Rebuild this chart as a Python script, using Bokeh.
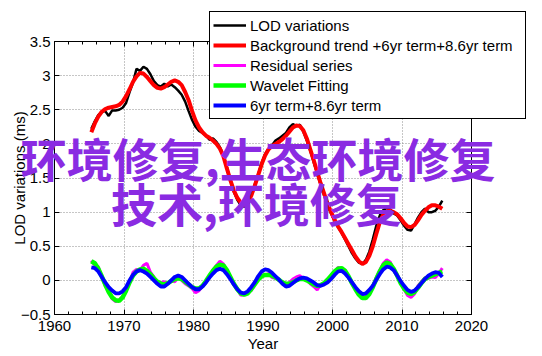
import math
from bokeh.plotting import figure
from bokeh.models import (Range1d, FixedTicker, LinearAxis, Legend, LegendItem,
                          Label, CustomJSTickFormatter)
from bokeh.embed import file_html
from bokeh.resources import INLINE

# ---------------- data ----------------
years = [round(1965.3 + 0.5 * i, 2) for i in range(102)]

lod = [2.22, 2.33, 2.42, 2.47, 2.48, 2.41, 2.49, 2.49, 2.50, 2.53,
       2.60, 2.76, 2.90, 3.10, 3.07, 3.13, 3.10, 3.02, 2.92, 2.86,
       2.84, 2.88, 2.84, 2.87, 2.83, 2.78, 2.72, 2.62, 2.48, 2.35,
       2.25, 2.19, 2.16, 2.12, 2.06, 2.08, 2.03, 1.95, 1.84, 1.66,
       1.47, 1.30, 1.18, 1.10, 1.08, 1.12, 1.24, 1.40, 1.55, 1.72,
       1.85, 1.93, 1.98, 2.05, 2.08, 2.12, 2.16, 2.24, 2.29, 2.26,
       2.28, 2.18, 2.05, 1.90, 1.73, 1.56, 1.40, 1.24, 1.10, 0.98,
       0.87, 0.78, 0.70, 0.60, 0.50, 0.40, 0.32, 0.26, 0.24, 0.30,
       0.42, 0.60, 0.80, 0.95, 1.03, 1.06, 1.04, 0.98, 0.95, 0.88,
       0.80, 0.74, 0.73, 0.82, 0.92, 1.00, 1.05, 1.00, 1.00, 1.02,
       1.08, 1.17]

trend = [2.17, 2.30, 2.40, 2.47, 2.51, 2.53, 2.54, 2.55, 2.57, 2.62,
         2.70, 2.80, 2.91, 2.99, 3.04, 3.03, 2.98, 2.92, 2.86, 2.82,
         2.81, 2.83, 2.87, 2.91, 2.93, 2.91, 2.86, 2.76, 2.64, 2.48,
         2.34, 2.24, 2.17, 2.12, 2.09, 2.05, 2.00, 1.93, 1.82, 1.64,
         1.47, 1.32, 1.21, 1.14, 1.10, 1.13, 1.24, 1.38, 1.54, 1.70,
         1.83, 1.92, 1.97, 2.00, 2.03, 2.07, 2.12, 2.18, 2.24, 2.27,
         2.26, 2.20, 2.08, 1.92, 1.76, 1.59, 1.42, 1.27, 1.12, 1.00,
         0.89, 0.79, 0.71, 0.62, 0.53, 0.44, 0.35, 0.28, 0.24, 0.27,
         0.36, 0.50, 0.68, 0.85, 0.96, 1.01, 1.02, 1.00, 0.97, 0.91,
         0.84, 0.79, 0.78, 0.81, 0.88, 0.96, 1.02, 1.07, 1.10, 1.10,
         1.08, 1.05]

resid = [0.29, 0.22, 0.20, 0.05, -0.08, -0.15, -0.27, -0.31, -0.29, -0.24,
         -0.14, -0.02, 0.12, 0.16, 0.15, 0.22, 0.25, 0.12, 0.05, -0.03,
         -0.03, -0.02, -0.05, 0.00, -0.02, 0.04, 0.00, -0.05, -0.08, -0.12,
         -0.18, -0.15, -0.09, 0.00, 0.05, 0.15, 0.22, 0.28, 0.24, 0.14,
         0.06, -0.06, -0.12, -0.22, -0.21, -0.17, -0.15, -0.07, 0.02, 0.08,
         0.07, 0.10, 0.04, 0.03, 0.00, -0.04, -0.07, -0.03, 0.02, 0.05,
         0.07, 0.03, 0.02, -0.05, -0.09, -0.14, -0.06, -0.04, 0.00, 0.06,
         0.12, 0.19, 0.17, 0.15, 0.05, -0.05, -0.12, -0.20, -0.23, -0.24,
         -0.18, -0.08, 0.04, 0.15, 0.25, 0.30, 0.27, 0.16, 0.08, -0.02,
         -0.13, -0.22, -0.25, -0.20, -0.08, -0.02, 0.04, 0.03, 0.05, 0.04,
         0.10, 0.18]

wavelet = [0.28, 0.25, 0.17, 0.06, -0.06, -0.17, -0.25, -0.29, -0.30, -0.25,
           -0.15, -0.03, 0.07, 0.13, 0.16, 0.17, 0.14, 0.09, 0.03, -0.02,
           -0.05, -0.06, -0.04, -0.01, 0.02, 0.03, 0.02, -0.02, -0.06, -0.10,
           -0.12, -0.12, -0.08, -0.01, 0.07, 0.14, 0.20, 0.23, 0.22, 0.15,
           0.05, -0.05, -0.13, -0.19, -0.21, -0.19, -0.13, -0.06, 0.01, 0.06,
           0.08, 0.08, 0.07, 0.04, 0.01, -0.03, -0.05, -0.05, -0.03, 0.00,
           0.02, 0.02, 0.00, -0.03, -0.06, -0.08, -0.07, -0.04, 0.01, 0.07,
           0.13, 0.17, 0.18, 0.14, 0.06, -0.04, -0.13, -0.21, -0.26, -0.26,
           -0.20, -0.10, 0.02, 0.13, 0.22, 0.26, 0.24, 0.17, 0.07, -0.04,
           -0.12, -0.18, -0.20, -0.17, -0.11, -0.04, 0.02, 0.05, 0.07, 0.09,
           0.11, 0.13]

terms = [0.19, 0.18, 0.13, 0.05, -0.03, -0.10, -0.15, -0.19, -0.19, -0.16,
         -0.10, 0.00, 0.08, 0.13, 0.15, 0.13, 0.10, 0.05, 0.00, -0.05,
         -0.09, -0.09, -0.05, 0.00, 0.05, 0.07, 0.05, 0.00, -0.05, -0.10,
         -0.13, -0.13, -0.09, -0.03, 0.04, 0.10, 0.15, 0.17, 0.15, 0.09,
         0.02, -0.06, -0.13, -0.18, -0.19, -0.16, -0.10, -0.03, 0.06, 0.13,
         0.16, 0.15, 0.11, 0.06, 0.01, -0.05, -0.09, -0.08, -0.04, 0.00,
         0.03, 0.04, 0.03, 0.00, -0.03, -0.07, -0.08, -0.06, -0.03, 0.02,
         0.08, 0.13, 0.14, 0.10, 0.04, -0.03, -0.10, -0.16, -0.20, -0.19,
         -0.14, -0.08, 0.01, 0.09, 0.16, 0.20, 0.19, 0.15, 0.07, -0.01,
         -0.08, -0.14, -0.17, -0.15, -0.10, -0.04, 0.02, 0.07, 0.10, 0.12,
         0.11, 0.05]

x_ticks = [1960, 1970, 1980, 1990, 2000, 2010, 2020]
x_tick_labels = ["1960", "1970", "1980", "1990", "2000", "2010", "2020"]
x_minor_ticks = list(range(1960, 2021, 2))
y_ticks = [-0.5, 0, 0.5, 1, 1.5, 2, 2.5, 3, 3.5]
y_tick_labels = ["\u22120.5", "0", "0.5", "1", "1.5", "2", "2.5", "3", "3.5"]
x_lim = (1960, 2020)
y_lim = (-0.5, 3.5)
x_title = "Year"
y_title = "LOD variations (ms)"

legend_labels = ["LOD variations",
                 "Background trend +6yr term+8.6yr term",
                 "Residual series",
                 "Wavelet Fitting",
                 "6yr term+8.6yr term"]
overlay_lines = ["环境修复,生态环境修复", "技术,环境修复"]

# ---------------- layout (pixels) ----------------
W, H = 542, 356
BOX_L, BOX_R, BOX_T, BOX_B = 54, 471, 41, 314   # the axes box inside the canvas
sx = (BOX_R - BOX_L) / (x_lim[1] - x_lim[0])
sy = (BOX_B - BOX_T) / (y_lim[1] - y_lim[0])
x_range = Range1d(x_lim[0] - BOX_L / sx, x_lim[1] + (W - BOX_R) / sx)
y_range = Range1d(y_lim[0] - (H - BOX_B) / sy, y_lim[1] + BOX_T / sy)

FONT = "Liberation Sans"

p = figure(width=W, height=H, x_range=x_range, y_range=y_range,
           output_backend="svg", toolbar_location=None, min_border=0,
           x_axis_label=x_title)
p.background_fill_color = "white"
p.border_fill_color = "white"
p.outline_line_color = None

xt = FixedTicker(ticks=x_ticks, minor_ticks=x_minor_ticks)
yt = FixedTicker(ticks=y_ticks)


def style_axis(ax, minor):
    ax.axis_line_color = "black"
    ax.axis_line_width = 1
    ax.major_tick_line_color = "black"
    ax.major_tick_in = 5
    ax.major_tick_out = 0
    ax.minor_tick_line_color = "black"
    ax.minor_tick_in = 3 if minor else 0
    ax.minor_tick_out = 0
    ax.major_label_text_font = FONT
    ax.major_label_text_font_size = "15px"
    ax.major_label_text_color = "black"
    ax.axis_label_text_font = FONT
    ax.axis_label_text_font_size = "15px"
    ax.axis_label_text_font_style = "normal"
    ax.axis_label_text_color = "black"


xa = p.xaxis[0]
xa.ticker = xt
xa.bounds = x_lim
xa.fixed_location = y_lim[0]
xa.major_label_overrides = dict(zip(x_ticks, x_tick_labels))
style_axis(xa, True)
xa.major_label_standoff = 6
xa.axis_label_standoff = 1

ya = p.yaxis[0]
ya.ticker = yt
ya.bounds = y_lim
ya.fixed_location = x_lim[0]
ya.major_label_overrides = dict(zip(y_ticks, y_tick_labels))
style_axis(ya, False)
ya.major_label_standoff = 4

blank = CustomJSTickFormatter(code="return ''")
top = LinearAxis(ticker=xt, formatter=blank, bounds=x_lim, fixed_location=y_lim[1])
style_axis(top, True)
p.add_layout(top, "above")
right = LinearAxis(ticker=yt, formatter=blank, bounds=y_lim, fixed_location=x_lim[1])
style_axis(right, False)
p.add_layout(right, "right")

for g, t, cb in ((p.xgrid[0], xt, y_lim), (p.ygrid[0], yt, x_lim)):
    g.ticker = t
    g.grid_line_color = "#8c8c8c"
    g.grid_line_dash = "1 2"
    g.grid_line_width = 1
    if "cross_bounds" in g.properties():
        g.cross_bounds = cb
    if "bounds" in g.properties():
        g.bounds = x_lim if t is xt else y_lim

# y axis title, placed like MATLAB's (19 px from the left edge)
p.add_layout(Label(x=x_lim[0] - (BOX_L - 19) / sx, y=sum(y_lim) / 2, text=y_title,
                   angle=math.pi / 2, text_font=FONT, text_font_size="15px",
                   text_color="black", text_align="center", text_baseline="middle"))

# ---------------- series ----------------
r_lod = p.line(years, lod, line_color="#000000", line_width=2.5)
r_trend = p.line(years, trend, line_color="#ff0000", line_width=4)
r_res = p.line(years, resid, line_color="#ff00ff", line_width=3)
r_wav = p.line(years, wavelet, line_color="#00ff00", line_width=4.5)
r_term = p.line(years, terms, line_color="#0000ff", line_width=3.8)

legend = Legend(items=[LegendItem(label=l, renderers=[r]) for l, r in
                       zip(legend_labels, [r_lod, r_trend, r_res, r_wav, r_term])],
                location=(209, H - 119))
legend.label_text_font = FONT
legend.label_text_font_size = "15px"
legend.label_text_color = "black"
legend.border_line_color = "black"
legend.border_line_width = 1
legend.border_line_alpha = 1
legend.background_fill_color = "white"
legend.background_fill_alpha = 1
legend.padding = 3
legend.spacing = 0
legend.margin = 0
legend.glyph_width = 33
legend.glyph_height = 20
legend.label_height = 20
legend.label_standoff = 4
legend.label_width = 272
p.add_layout(legend)

for txt, xv, yv in zip(overlay_lines, [1989.3, 1989.05], [1.815, 1.15]):
    p.add_layout(Label(x=xv, y=yv, text=txt,
                       text_font="Noto Sans CJK SC", text_font_style="bold",
                       text_font_size="46px", text_color="#8a2be2",
                       text_align="center", text_baseline="middle"))

open("out.html", "w").write(file_html(p, INLINE))
